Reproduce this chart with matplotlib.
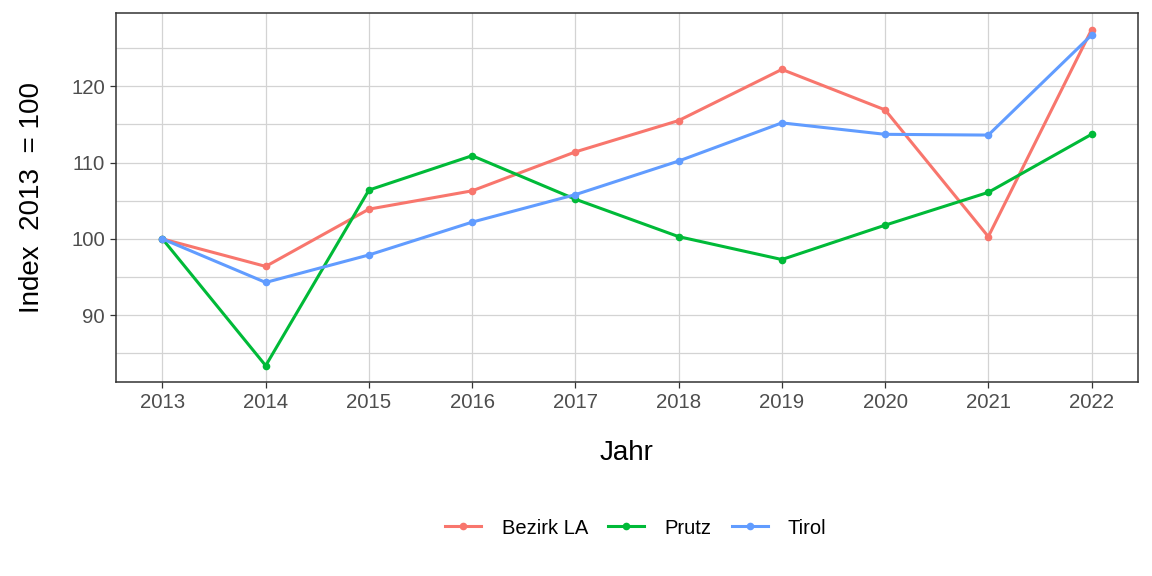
import matplotlib
matplotlib.use("Agg")
import matplotlib.pyplot as plt
from matplotlib.ticker import FixedLocator

years = [2013, 2014, 2015, 2016, 2017, 2018, 2019, 2020, 2021, 2022]
bezirk_la = [100.0, 96.4, 103.9, 106.3, 111.4, 115.5, 122.2, 116.9, 100.3, 127.4]
prutz = [100.0, 83.4, 106.4, 110.9, 105.2, 100.3, 97.3, 101.8, 106.1, 113.7]
tirol = [100.0, 94.3, 97.9, 102.2, 105.8, 110.2, 115.2, 113.7, 113.6, 126.7]
series_names = ["Bezirk LA", "Prutz", "Tirol"]
colors = ["#F8766D", "#00BA38", "#619CFF"]

plt.rcParams['font.family'] = ['Liberation Sans', 'DejaVu Sans']

fig = plt.figure(figsize=(11.52, 5.76), dpi=100)
ax = fig.add_axes([116/1152, 1 - 381.7/576, (1138-116)/1152, (381.7-13.3)/576])

for name, vals, c in zip(series_names, [bezirk_la, prutz, tirol], colors):
    ax.plot(years, vals, color=c, lw=2.2, marker='o', markersize=5.5,
            markeredgewidth=0, label=name, zorder=3)

ax.set_xlim(2012.55, 2022.45)
ax.set_ylim(81.3, 129.55)
ax.xaxis.set_major_locator(FixedLocator(years))
ax.yaxis.set_major_locator(FixedLocator([90, 100, 110, 120]))
ax.yaxis.set_minor_locator(FixedLocator([85, 95, 105, 115, 125]))

ax.grid(True, which='major', color='#D3D3D3', lw=0.9, zorder=0)
ax.grid(True, which='minor', axis='y', color='#D3D3D3', lw=0.9, zorder=0)
ax.set_axisbelow(True)

for s in ax.spines.values():
    s.set_color('#333333')
    s.set_linewidth(1.1)

ax.tick_params(axis='both', which='major', length=4, width=0.9, color='#333333',
               labelsize=14.7, labelcolor='#4D4D4D', pad=4)
ax.tick_params(axis='y', which='minor', length=0)

ax.set_xlabel("Jahr", fontsize=20, color='black', labelpad=20)
ax.set_ylabel("Index  2013  = 100", fontsize=20, color='black', labelpad=19)

leg = fig.legend(loc='center', bbox_to_anchor=(0.552, 1 - 528/576), ncol=3,
                 frameon=False, fontsize=14.5, handlelength=1.8,
                 columnspacing=1.0, handletextpad=1.0)

fig.savefig("out.png", dpi=100)
